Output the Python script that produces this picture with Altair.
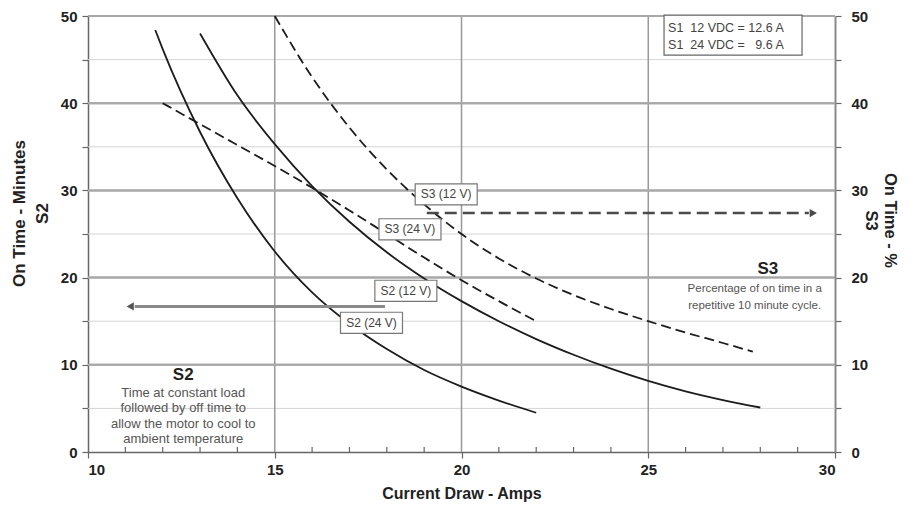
import altair as alt
import pandas as pd

FONT = "Liberation Sans"
W, H = 747, 436

# ---- curves (Current Draw - Amps vs On Time) ----
s2_24_amps = [11.8, 12.0, 13.0, 14.0, 15.0, 16.0, 17.0, 18.0, 19.0, 20.0, 21.0, 22.0]
s2_24_vals = [48.4, 46.2, 36.7, 29.1, 23.0, 18.3, 14.7, 11.8, 9.4, 7.5, 5.9, 4.5]

s2_12_amps = [13.0, 14.0, 15.0, 16.0, 17.0, 18.0, 19.0, 20.0, 21.0, 22.0, 23.0, 24.0, 25.0, 26.0, 27.0, 28.0]
s2_12_vals = [48.0, 40.9, 35.3, 30.5, 26.4, 22.9, 19.9, 17.3, 15.0, 12.95, 11.15, 9.55, 8.15, 6.95, 5.95, 5.1]

s3_12_amps = [15.0, 16.0, 17.0, 18.0, 19.0, 20.0, 21.0, 22.0, 23.0, 24.0, 25.0, 26.0, 27.0, 27.8]
s3_12_vals = [50.0, 43.0, 37.2, 32.4, 28.4, 25.0, 22.2, 19.9, 18.0, 16.4, 15.0, 13.7, 12.5, 11.5]

s3_24_amps = [12.0, 13.0, 14.0, 15.0, 16.0, 17.0, 18.0, 19.0, 20.0, 21.0, 22.0]
s3_24_vals = [40.0, 37.6, 35.2, 32.8, 30.3, 27.7, 25.0, 22.3, 19.7, 17.3, 15.0]

# ---- curve labels ----
label_text = ["S3 (12 V)", "S3 (24 V)", "S2 (12 V)", "S2 (24 V)"]
label_amps = [19.59, 18.62, 18.51, 17.59]
label_vals = [29.55, 25.54, 18.49, 14.82]

# ---- grid / ticks ----
hgrid_major = [10, 20, 30, 40, 50]
hgrid_minor = [5, 15, 25, 35, 45]
vgrid = [15, 20, 25]
x_minor_ticks = [a for a in range(11, 30) if a % 5 != 0]

# ---- arrows ----
s3_arrow_amps = [19.07, 29.3]
s3_arrow_val = 27.4
s2_arrow_amps = [17.95, 11.25]
s2_arrow_val = 16.7

# ---- annotation texts ----
s2_note = ["Time at constant load", "followed by off time to",
           "allow the motor to cool to", "ambient temperature"]
s3_note = ["Percentage of on time in a", "repetitive 10 minute cycle."]
s1_box = ["S1\u00a0\u00a012 VDC = 12.6 A", "S1\u00a0\u00a024 VDC =\u00a0\u00a0\u00a09.6 A"]

xs = alt.Scale(domain=[10, 30], nice=False, zero=False)
ys = alt.Scale(domain=[0, 50], nice=False, zero=True)

X_AXIS = alt.Axis(values=[10, 15, 20, 25, 30], format="d", grid=False,
                  domainColor="#666", domainWidth=1.5,
                  tickColor="#666", tickWidth=1.2, tickSize=6,
                  labelFont=FONT, labelFontSize=15, labelFontWeight="bold",
                  labelColor="#222", labelPadding=4,
                  titleFont=FONT, titleFontSize=16, titleFontWeight="bold",
                  titleColor="#222", titlePadding=8)


def X(field="amps"):
    return alt.X(f"{field}:Q", scale=xs, axis=X_AXIS, title="Current Draw - Amps")


def Y(field="value"):
    return alt.Y(f"{field}:Q", scale=ys, axis=None)


def rows(series, amps, vals):
    return [{"series": series, "amps": a, "value": v} for a, v in zip(amps, vals)]


solid_df = pd.DataFrame(rows("S2 (24 V)", s2_24_amps, s2_24_vals) +
                        rows("S2 (12 V)", s2_12_amps, s2_12_vals))
dashed_df = pd.DataFrame(rows("S3 (12 V)", s3_12_amps, s3_12_vals) +
                         rows("S3 (24 V)", s3_24_amps, s3_24_vals))

# grid layers
minor_h = alt.Chart(pd.DataFrame({"value": hgrid_minor})).mark_rule(
    color="#d4d4d4", strokeWidth=1).encode(y=Y())

vgrid_layer = alt.Chart(pd.DataFrame({"amps": vgrid})).mark_rule(
    color="#999", strokeWidth=1.5).encode(x=X())

major_h = alt.Chart(pd.DataFrame({"value": hgrid_major})).mark_rule(
    color="#a8a8a8", strokeWidth=2).encode(
    y=alt.Y("value:Q", scale=ys, title=["On Time - Minutes", "S2"],
            axis=alt.Axis(values=list(range(0, 51, 5)),
                          labelExpr="datum.value % 10 == 0 ? datum.label : ''",
                          grid=False, domainColor="#666", domainWidth=1.5,
                          tickColor="#666", tickWidth=1.2, tickSize=6,
                          labelFont=FONT, labelFontSize=15, labelFontWeight="bold",
                          labelColor="#222", labelPadding=5,
                          titleFont=FONT, titleFontSize=17, titleFontWeight="bold",
                          titleColor="#222", titleLineHeight=23,
                          titleX=-60, titleY=197)))

right_axis = alt.Chart(pd.DataFrame({"value": hgrid_major})).mark_rule(
    color="#a8a8a8", strokeWidth=2).encode(
    y=alt.Y("value:Q", scale=ys, title=["On Time - %", "S3"],
            axis=alt.Axis(orient="right", values=list(range(0, 51, 5)),
                          labelExpr="datum.value % 10 == 0 ? datum.label : ''",
                          grid=False, domainColor="#8a8a8a", domainWidth=2,
                          tickColor="#666", tickWidth=1.2, tickSize=6,
                          labelFont=FONT, labelFontSize=15, labelFontWeight="bold",
                          labelColor="#222", labelPadding=10,
                          titleFont=FONT, titleFontSize=16.5, titleFontWeight="bold",
                          titleColor="#222", titleLineHeight=19,
                          titleX=46, titleY=204)))

minor_x = alt.Chart(pd.DataFrame({"amps": x_minor_ticks})).mark_rule(
    color="#666", strokeWidth=1.2).encode(
    x=X(), y=alt.value(H), y2=alt.value(H - 5))

solid = alt.Chart(solid_df).mark_line(
    color="#1c1c1c", strokeWidth=1.8, interpolate="monotone").encode(
    x=X(), y=Y(), detail="series:N")

dashed = alt.Chart(dashed_df).mark_line(
    color="#1c1c1c", strokeWidth=1.8, strokeDash=[10, 5], interpolate="monotone").encode(
    x=X(), y=Y(), detail="series:N")

s3_arrow = alt.Chart(pd.DataFrame({"amps": [s3_arrow_amps[0]], "amps2": [s3_arrow_amps[1]],
                                    "value": [s3_arrow_val]})).mark_rule(
    color="#4a4a4a", strokeWidth=2.5, strokeDash=[12, 6]).encode(
    x=X(), x2="amps2:Q", y=Y())
s3_head = alt.Chart(pd.DataFrame({"amps": [s3_arrow_amps[1] + 0.12], "value": [s3_arrow_val]})).mark_point(
    shape="triangle-right", size=70, filled=True, color="#4a4a4a", opacity=1).encode(
    x=X(), y=Y())

s2_arrow = alt.Chart(pd.DataFrame({"amps": [s2_arrow_amps[0]], "amps2": [s2_arrow_amps[1]],
                                    "value": [s2_arrow_val]})).mark_rule(
    color="#8a8a8a", strokeWidth=3).encode(
    x=X(), x2="amps2:Q", y=Y())
s2_head = alt.Chart(pd.DataFrame({"amps": [s2_arrow_amps[1] - 0.12], "value": [s2_arrow_val]})).mark_point(
    shape="triangle-left", size=70, filled=True, color="#555", opacity=1).encode(
    x=X(), y=Y())

lab_df = pd.DataFrame({"label": label_text, "amps": label_amps, "value": label_vals})
lab_box = alt.Chart(lab_df).mark_point(
    shape="M-1,-0.34H1V0.34H-1Z", size=62 ** 2, filled=False, fill="white", fillOpacity=1,
    stroke="#777", strokeWidth=1.2, opacity=1).encode(x=X(), y=Y())
lab_txt = alt.Chart(lab_df).mark_text(font=FONT, fontSize=12, color="#444").encode(
    x=X(), y=Y(), text="label:N")

# annotations
s2_head_txt = alt.Chart(pd.DataFrame({"amps": [12.55], "value": [8.8], "t": ["S2"]})).mark_text(
    font=FONT, fontSize=17, fontWeight="bold", color="#222").encode(x=X(), y=Y(), text="t:N")
s2_note_txt = alt.Chart(pd.DataFrame({"amps": [12.55], "value": [7.45]})).mark_text(
    font=FONT, fontSize=13, color="#555", baseline="top", lineHeight=15.3, text=s2_note).encode(
    x=X(), y=Y())

s3_head_txt = alt.Chart(pd.DataFrame({"amps": [28.2], "value": [21.0], "t": ["S3"]})).mark_text(
    font=FONT, fontSize=17, fontWeight="bold", color="#222").encode(x=X(), y=Y(), text="t:N")
s3_note_txt = alt.Chart(pd.DataFrame({"amps": [27.85], "value": [19.35]})).mark_text(
    font=FONT, fontSize=11.5, color="#555", baseline="top", lineHeight=17, text=s3_note).encode(
    x=X(), y=Y())

s1_rect = alt.Chart(pd.DataFrame({"amps": [27.27], "value": [47.8]})).mark_point(
    shape="M-1,-0.29H1V0.29H-1Z", size=138 ** 2, filled=False, fill="white", fillOpacity=1,
    stroke="#666", strokeWidth=1.2, opacity=1).encode(x=X(), y=Y())
s1_txt = alt.Chart(pd.DataFrame({"amps": [25.53], "value": [49.3]})).mark_text(
    font=FONT, fontSize=12.5, color="#444", align="left", baseline="top", lineHeight=16.5,
    text=s1_box).encode(x=X(), y=Y())

chart = alt.layer(minor_h, vgrid_layer, major_h, right_axis, minor_x, dashed, solid,
                  s3_arrow, s3_head, s2_arrow, s2_head, lab_box, lab_txt,
                  s2_head_txt, s2_note_txt, s3_head_txt, s3_note_txt, s1_rect, s1_txt
                  ).resolve_scale(y="independent").properties(
    width=W, height=H, autosize="none",
    padding={"left": 80, "top": 8, "right": 67, "bottom": 58},
    background="white",
).configure_view(stroke="transparent")

chart.save("out.html", embed_options={"renderer": "svg", "actions": False})
